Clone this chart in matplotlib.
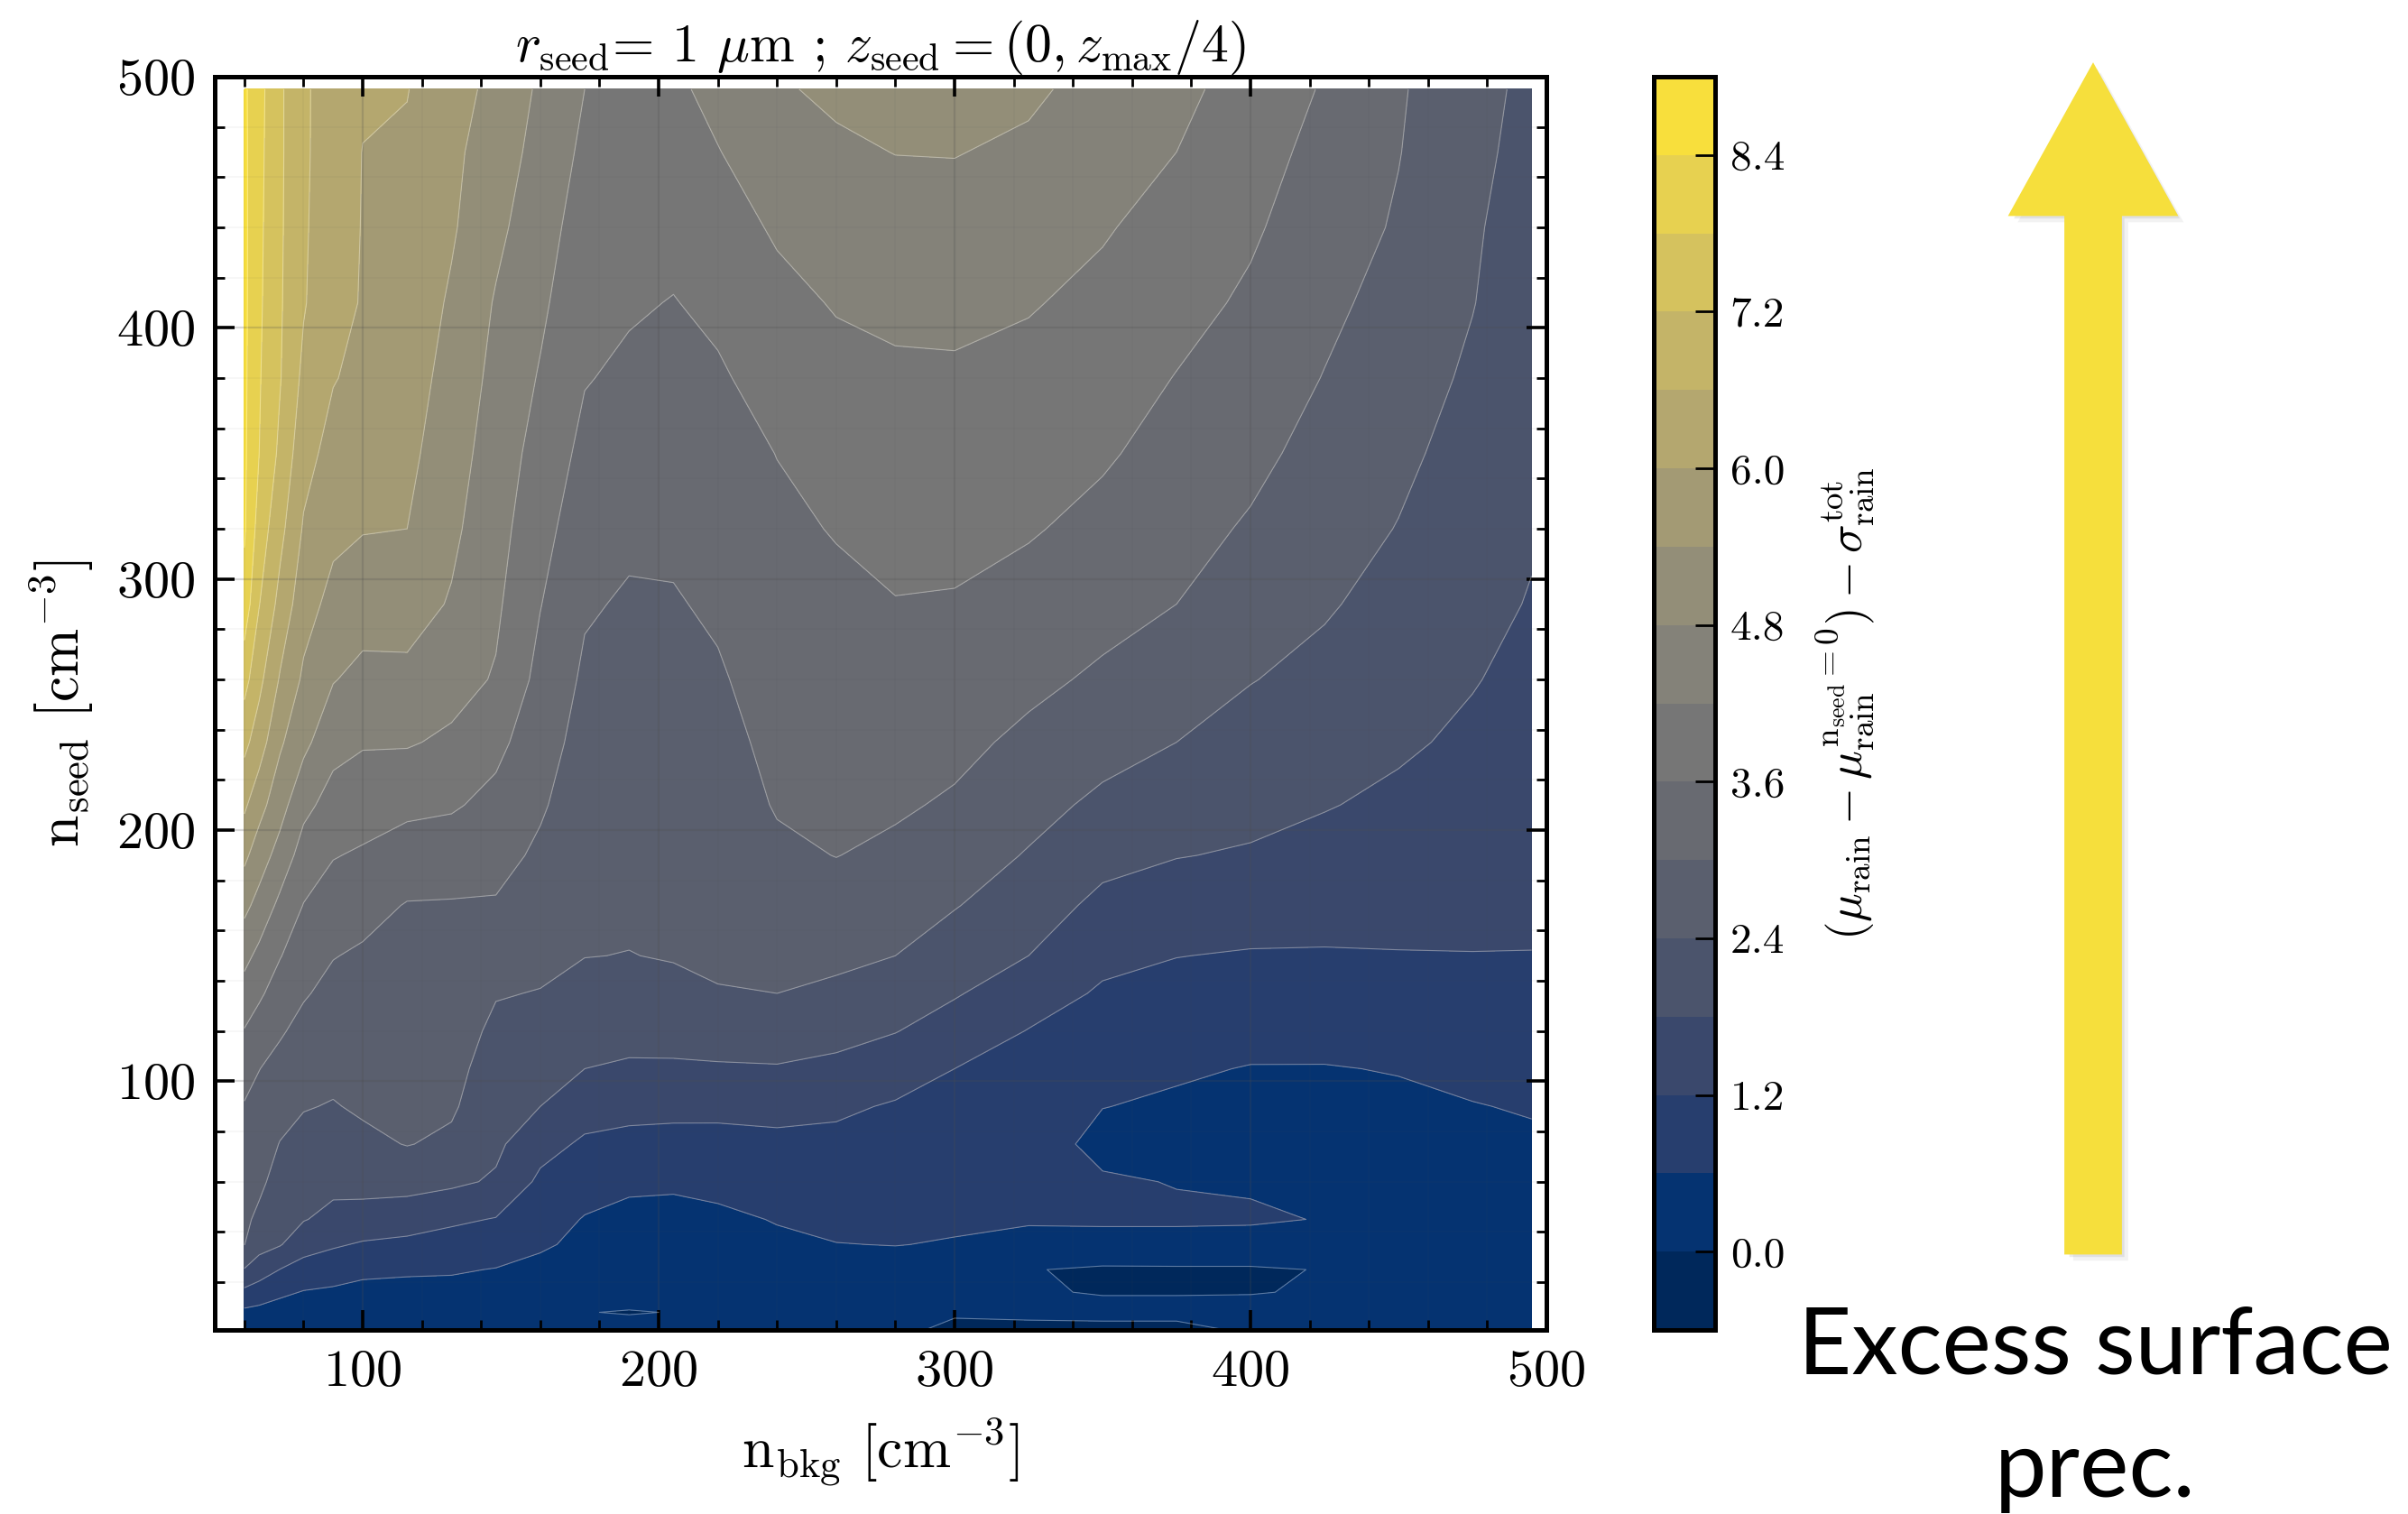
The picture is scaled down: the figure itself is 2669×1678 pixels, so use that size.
import numpy as np
import matplotlib
matplotlib.use("Agg")
import matplotlib.pyplot as plt
import matplotlib.patheffects as pe
from matplotlib.patches import FancyArrow
from matplotlib.ticker import MultipleLocator, FormatStrFormatter

plt.rcParams.update({
    "font.family": "serif",
    "font.serif": ["cmr10"],
    "mathtext.fontset": "cm",
    "axes.formatter.use_mathtext": True,
    "axes.unicode_minus": False,
})

# background droplet concentration (columns) and seeding concentration (rows), cm^-3
n_bkg = [60, 65, 72, 80, 90, 100, 115, 130, 145, 160, 175, 190, 205, 220,
         240, 260, 280, 300, 325, 350, 375, 400, 425, 450, 475, 495]
n_seed = [1, 8, 16, 25, 35, 45, 60, 75, 90, 105, 120, 135, 150, 170, 190,
          210, 235, 260, 290, 320, 350, 380, 410, 440, 470, 495]

# excess rain (mu - mu_unseeded - sigma), one list per n_bkg value, running up n_seed
excess_cols = [
    [0.10, 0.48, 1.06, 1.77, 2.41, 2.51, 2.66, 2.81, 2.96, 3.24, 3.57, 3.96, 4.37, 4.95, 5.53, 6.10, 6.76, 7.41, 8.16, 8.48, 8.50, 8.52, 8.53, 8.53, 8.52, 8.50],
    [0.25, 0.45, 0.88, 1.53, 1.99, 2.28, 2.52, 2.68, 2.84, 3.01, 3.34, 3.69, 4.05, 4.60, 5.09, 5.61, 6.29, 6.76, 7.22, 7.54, 7.80, 7.85, 7.90, 7.93, 7.96, 7.99],
    [0.25, 0.35, 0.71, 1.19, 1.84, 1.98, 2.18, 2.38, 2.61, 2.83, 3.06, 3.34, 3.63, 4.06, 4.58, 5.03, 5.49, 5.95, 6.42, 6.78, 7.08, 7.24, 7.27, 7.29, 7.30, 7.30],
    [0.20, 0.33, 0.57, 0.97, 1.44, 1.83, 2.03, 2.23, 2.43, 2.64, 2.84, 3.05, 3.28, 3.58, 3.94, 4.36, 4.95, 5.30, 5.64, 5.94, 6.21, 6.46, 6.65, 6.68, 6.70, 6.70],
    [0.20, 0.30, 0.52, 0.84, 1.27, 1.64, 1.95, 2.16, 2.37, 2.53, 2.69, 2.85, 3.02, 3.32, 3.63, 3.97, 4.39, 4.83, 5.22, 5.54, 5.79, 6.03, 6.15, 6.22, 6.26, 6.28],
    [0.20, 0.30, 0.45, 0.72, 1.14, 1.58, 1.99, 2.28, 2.47, 2.58, 2.70, 2.81, 2.93, 3.18, 3.53, 3.86, 4.25, 4.64, 5.06, 5.43, 5.65, 5.86, 5.97, 5.98, 5.99, 6.06],
    [0.20, 0.30, 0.45, 0.67, 1.08, 1.44, 2.03, 2.42, 2.51, 2.60, 2.68, 2.77, 2.86, 2.97, 3.32, 3.74, 4.25, 4.66, 5.05, 5.40, 5.55, 5.68, 5.78, 5.85, 5.92, 6.02],
    [0.20, 0.30, 0.45, 0.65, 0.96, 1.30, 1.91, 2.30, 2.47, 2.56, 2.65, 2.74, 2.83, 2.96, 3.27, 3.67, 4.10, 4.42, 4.75, 4.92, 5.05, 5.18, 5.32, 5.47, 5.53, 5.60],
    [0.20, 0.30, 0.42, 0.58, 0.87, 1.17, 1.73, 1.91, 2.04, 2.16, 2.29, 2.43, 2.65, 2.95, 3.19, 3.43, 3.76, 4.15, 4.30, 4.42, 4.53, 4.64, 4.75, 4.94, 5.10, 5.26],
    [0.25, 0.35, 0.40, 0.48, 0.66, 0.83, 1.08, 1.41, 1.80, 1.99, 2.18, 2.38, 2.53, 2.72, 2.90, 3.07, 3.24, 3.42, 3.62, 3.80, 3.97, 4.15, 4.31, 4.45, 4.60, 4.70],
    [0.30, 0.02, 0.33, 0.42, 0.50, 0.57, 0.82, 1.11, 1.45, 1.80, 2.01, 2.23, 2.41, 2.50, 2.59, 2.68, 2.80, 2.91, 3.06, 3.26, 3.45, 3.63, 3.78, 3.93, 4.08, 4.20],
    [0.25, -0.04, 0.30, 0.36, 0.43, 0.50, 0.67, 1.03, 1.38, 1.73, 1.97, 2.18, 2.39, 2.48, 2.55, 2.63, 2.73, 2.82, 2.94, 3.10, 3.30, 3.50, 3.66, 3.78, 3.90, 4.00],
    [0.25, 0.02, 0.30, 0.36, 0.42, 0.50, 0.65, 1.00, 1.36, 1.72, 2.01, 2.27, 2.43, 2.50, 2.58, 2.65, 2.75, 2.84, 2.96, 3.10, 3.27, 3.42, 3.58, 3.76, 3.93, 4.10],
    [0.25, 0.30, 0.33, 0.38, 0.45, 0.52, 0.71, 1.01, 1.35, 1.74, 2.06, 2.38, 2.46, 2.55, 2.64, 2.72, 2.83, 2.94, 3.08, 3.23, 3.38, 3.53, 3.72, 3.95, 4.18, 4.35],
    [0.30, 0.35, 0.40, 0.46, 0.53, 0.62, 0.84, 1.07, 1.37, 1.76, 2.09, 2.40, 2.54, 2.72, 2.90, 3.04, 3.14, 3.24, 3.36, 3.49, 3.61, 3.82, 4.04, 4.27, 4.50, 4.74],
    [0.30, 0.33, 0.38, 0.45, 0.59, 0.71, 0.89, 1.07, 1.29, 1.66, 1.99, 2.29, 2.52, 2.78, 3.01, 3.11, 3.23, 3.34, 3.48, 3.63, 3.83, 4.03, 4.24, 4.47, 4.71, 4.90],
    [0.10, 0.20, 0.30, 0.43, 0.61, 0.70, 0.86, 1.00, 1.15, 1.45, 1.82, 2.11, 2.40, 2.64, 2.89, 3.07, 3.23, 3.39, 3.58, 3.76, 3.94, 4.11, 4.32, 4.56, 4.81, 4.95],
    [-0.10, 0.05, 0.20, 0.38, 0.57, 0.67, 0.80, 0.93, 1.06, 1.20, 1.53, 1.85, 2.10, 2.43, 2.68, 2.93, 3.14, 3.33, 3.56, 3.75, 3.94, 4.12, 4.34, 4.58, 4.82, 5.00],
    [-0.10, 0.08, 0.03, 0.02, 0.45, 0.65, 0.75, 0.86, 0.97, 1.07, 1.18, 1.47, 1.80, 2.08, 2.36, 2.59, 2.88, 3.13, 3.39, 3.65, 3.85, 4.04, 4.24, 4.47, 4.70, 4.90],
    [-0.10, 0.10, -0.02, -0.06, 0.35, 0.70, 0.66, 0.45, 0.61, 0.78, 0.96, 1.13, 1.34, 1.66, 1.97, 2.28, 2.61, 2.91, 3.19, 3.44, 3.67, 3.87, 4.06, 4.25, 4.44, 4.60],
    [-0.10, 0.10, -0.02, -0.06, 0.40, 0.68, 0.58, 0.40, 0.53, 0.66, 0.84, 1.03, 1.21, 1.52, 1.82, 2.08, 2.40, 2.67, 3.00, 3.19, 3.39, 3.58, 3.79, 3.99, 4.20, 4.35],
    [0.05, 0.15, -0.02, -0.06, 0.40, 0.66, 0.55, 0.42, 0.48, 0.58, 0.76, 0.96, 1.16, 1.45, 1.75, 1.95, 2.18, 2.42, 2.67, 2.94, 3.14, 3.32, 3.51, 3.68, 3.82, 3.96],
    [0.10, 0.20, 0.04, 0.02, 0.35, 0.58, 0.50, 0.45, 0.50, 0.58, 0.75, 0.95, 1.16, 1.39, 1.62, 1.83, 2.04, 2.24, 2.46, 2.64, 2.81, 2.98, 3.13, 3.28, 3.43, 3.55],
    [0.15, 0.20, 0.22, 0.25, 0.30, 0.35, 0.40, 0.45, 0.52, 0.62, 0.81, 0.99, 1.18, 1.35, 1.52, 1.69, 1.88, 2.03, 2.20, 2.38, 2.52, 2.66, 2.80, 2.94, 3.02, 3.06],
    [0.15, 0.20, 0.22, 0.25, 0.30, 0.35, 0.42, 0.50, 0.58, 0.73, 0.91, 1.03, 1.19, 1.31, 1.43, 1.55, 1.70, 1.83, 1.95, 2.07, 2.19, 2.31, 2.42, 2.47, 2.55, 2.61],
    [0.15, 0.20, 0.25, 0.30, 0.35, 0.40, 0.45, 0.52, 0.64, 0.77, 0.91, 1.05, 1.19, 1.28, 1.36, 1.44, 1.54, 1.65, 1.77, 1.85, 1.92, 1.99, 2.06, 2.13, 2.20, 2.25],
]

levels = np.linspace(-0.6, 9.0, 17)
cbar_ticks = np.linspace(0.0, 8.4, 8)

excess = np.array(excess_cols).T

fig = plt.figure(figsize=(13.345, 8.39), dpi=200)
ax = fig.add_axes([0.0892, 0.1216, 0.553, 0.8277])

cf = ax.contourf(n_bkg, n_seed, excess, levels=levels, cmap="cividis")
ax.contour(n_bkg, n_seed, excess, levels=levels, colors="w",
           linewidths=0.4, alpha=0.35)

ax.set_xlim(50, 500)
ax.set_ylim(1, 500)
ax.xaxis.set_major_locator(MultipleLocator(100))
ax.xaxis.set_minor_locator(MultipleLocator(20))
ax.yaxis.set_major_locator(MultipleLocator(100))
ax.yaxis.set_minor_locator(MultipleLocator(20))
ax.tick_params(which="both", direction="in", top=True, right=True,
               labelsize=21, pad=8)
ax.tick_params(which="major", length=8, width=1.3)
ax.tick_params(which="minor", length=4, width=1.0)
for s in ax.spines.values():
    s.set_linewidth(1.8)
ax.grid(True, which="major", color="0.3", alpha=0.22, lw=0.8)
ax.grid(True, which="minor", color="0.3", alpha=0.05, lw=0.6)

ax.set_xlabel(r"$\rm n_{bkg}\ [cm^{-3}]$", fontsize=23, labelpad=8)
ax.set_ylabel(r"$\rm n_{seed}\ [cm^{-3}]$", fontsize=23, labelpad=8)
ax.set_title(r"$r_{\rm seed}$= 1 $\mu$m ; $z_{\rm seed} = (0, z_{\rm max}/4)$",
             fontsize=21.5, pad=6)

cax = fig.add_axes([0.6868, 0.1216, 0.0255, 0.8277])
cb = fig.colorbar(cf, cax=cax, ticks=cbar_ticks)
cb.ax.yaxis.set_major_formatter(FormatStrFormatter("%.1f"))
cb.ax.tick_params(direction="in", length=8, width=1.0, labelsize=17, pad=6)
cb.outline.set_linewidth(1.8)
cb.set_label(r"$(\mu_{\rm rain} - \mu_{\rm rain}^{\rm n_{seed}=0}) - \sigma_{\rm rain}^{\rm tot}$",
             fontsize=19, labelpad=12)

# big yellow arrow with a soft shadow
arrow = FancyArrow(11.6, 1.445, 0, 6.585, width=0.305, head_width=0.92,
                   head_length=0.83, length_includes_head=True,
                   color="#f6df3c", transform=fig.dpi_scale_trans)
arrow.set_path_effects([
    pe.SimplePatchShadow(offset=(3, -3), shadow_rgbFace="0.6", alpha=0.12),
    pe.SimplePatchShadow(offset=(1.5, -1.5), shadow_rgbFace="0.55", alpha=0.18),
    pe.Normal(),
])
fig.add_artist(arrow)

fig.text(0.870, 0.0924, "Excess surface", family="Lato", fontsize=37,
         ha="center", va="baseline")
fig.text(0.870, 0.0113, "prec.", family="Lato", fontsize=37,
         ha="center", va="baseline")

fig.savefig("out.png", dpi=200)
